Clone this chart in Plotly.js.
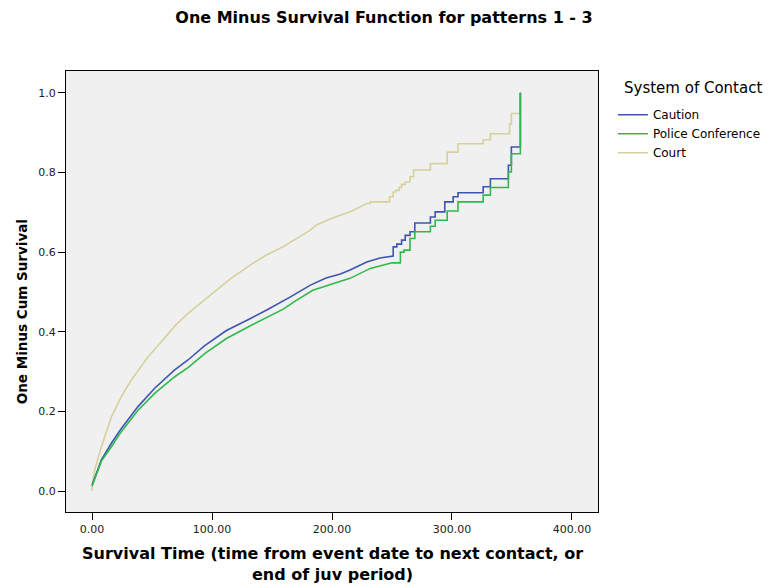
<!DOCTYPE html>
<html>
<head>
<meta charset="utf-8">
<script src="https://cdn.plot.ly/plotly-3.0.1.min.js"></script>
<style>
  html, body { margin: 0; padding: 0; background: #ffffff; }
  #chart { width: 768px; height: 588px; }
</style>
</head>
<body>
<div id="chart"></div>
<script>
// ---- Data (time, one minus cumulative survival) ----
const seriesNames = ["Caution", "Police Conference", "Court"];

const cautionTime = [0, 1, 7.8, 16.1, 24.4, 38.3, 52.2, 68.9, 80, 93.9, 105, 112, 130, 146, 165, 182, 195, 207, 215, 229, 240, 248,
  251, 254, 258, 261, 265, 269, 282, 286, 294, 301, 305, 326, 332, 347, 349.5, 357];
const cautionValue = [0.015, 0.023, 0.078, 0.12, 0.157, 0.212, 0.258, 0.304, 0.329, 0.365, 0.388, 0.403, 0.43, 0.455, 0.487, 0.517, 0.535, 0.545, 0.555, 0.575, 0.585, 0.590,
  0.613, 0.62, 0.63, 0.642, 0.651, 0.673, 0.688, 0.701, 0.726, 0.739, 0.749, 0.764, 0.784, 0.818, 0.864, 1.0];

const policeTime = [0, 1, 7.8, 16.1, 24.4, 38.3, 52.2, 68.9, 80, 93.9, 105, 112, 130, 146, 159, 170, 184, 200, 215, 232, 237, 250,
  257, 260, 265, 269, 282, 286, 296, 305, 326, 332, 347, 349.5, 357];
const policeValue = [0.012, 0.02, 0.075, 0.111, 0.149, 0.203, 0.245, 0.287, 0.31, 0.345, 0.367, 0.383, 0.412, 0.436, 0.456, 0.478, 0.504, 0.52, 0.534, 0.559, 0.563, 0.573,
  0.600, 0.605, 0.634, 0.651, 0.665, 0.68, 0.703, 0.726, 0.743, 0.762, 0.801, 0.847, 1.0];

const courtTime = [0, 0.5, 2.2, 7.8, 16.1, 24.4, 32.8, 46.7, 57.8, 68.9, 80, 96.7, 103.6, 115, 132, 145, 159, 168, 182, 187, 200, 215, 229,
  232, 248, 251, 253, 256, 258, 261, 265, 268, 282, 296, 305, 326, 332, 348, 349.5, 357];
const courtValue = [0, 0.023, 0.053, 0.111, 0.186, 0.237, 0.279, 0.337, 0.375, 0.414, 0.446, 0.488, 0.503, 0.532, 0.568, 0.592, 0.613, 0.63, 0.655, 0.668, 0.685, 0.701, 0.722,
  0.726, 0.739, 0.751, 0.755, 0.762, 0.770, 0.776, 0.789, 0.806, 0.822, 0.851, 0.872, 0.882, 0.897, 0.922, 0.948, 1.0];

const xTickVals = [0, 100, 200, 300, 400];
const xTickText = ["0.00", "100.00", "200.00", "300.00", "400.00"];
const yTickVals = [0, 0.2, 0.4, 0.6, 0.8, 1.0];
const yTickText = ["0.0", "0.2", "0.4", "0.6", "0.8", "1.0"];

// Dense early events are drawn as a continuous line; sparse later events as steps.
function kmPath(t, v, stepFrom) {
  const xs = [], ys = [];
  for (let i = 0; i < t.length; i++) {
    if (i > 0 && t[i] > stepFrom) { xs.push(t[i]); ys.push(v[i - 1]); }
    xs.push(t[i]); ys.push(v[i]);
  }
  return { x: xs, y: ys };
}

const FONT = "DejaVu Sans, Verdana, sans-serif";
const colors = { caution: "#3e55ae", police: "#2fb94a", court: "#d5d09c" };

const pc = kmPath(courtTime, courtValue, 230);
const pa = kmPath(cautionTime, cautionValue, 249);
const pp = kmPath(policeTime, policeValue, 251);

const traces = [
  { x: pc.x, y: pc.y, name: seriesNames[2], legendrank: 3, mode: "lines",
    line: { color: colors.court, width: 1.6 }, hoverinfo: "skip" },
  { x: pa.x, y: pa.y, name: seriesNames[0], legendrank: 1, mode: "lines",
    line: { color: colors.caution, width: 1.6 }, hoverinfo: "skip" },
  { x: pp.x, y: pp.y, name: seriesNames[1], legendrank: 2, mode: "lines",
    line: { color: colors.police, width: 1.6 }, hoverinfo: "skip" }
];

const layout = {
  width: 768, height: 588,
  margin: { l: 66, r: 170, t: 71, b: 76, autoexpand: false },
  paper_bgcolor: "#ffffff",
  plot_bgcolor: "#f0f0f0",
  font: { family: FONT, color: "#000000", size: 11 },
  showlegend: true,
  title: {
    text: "<b>One Minus Survival Function for patterns 1 - 3</b>",
    font: { family: FONT, size: 16, color: "#000000" },
    xref: "container", x: 0.5, xanchor: "center",
    yref: "container", y: 0.971, yanchor: "middle"
  },
  xaxis: {
    range: [-21.7, 421.7],
    tickvals: xTickVals, ticktext: xTickText,
    ticks: "outside", ticklen: 7, tickwidth: 1, tickcolor: "#000000",
    showline: true, linecolor: "#000000", linewidth: 1, mirror: true,
    showgrid: false, zeroline: false,
    tickfont: { family: FONT, size: 11, color: "#222222" }
  },
  yaxis: {
    range: [-0.0527, 1.0547],
    tickvals: yTickVals, ticktext: yTickText,
    ticks: "outside", ticklen: 7, tickwidth: 1, tickcolor: "#000000",
    showline: true, linecolor: "#000000", linewidth: 1, mirror: true,
    showgrid: false, zeroline: false,
    tickfont: { family: FONT, size: 11, color: "#222222" }
  },
  legend: {
    x: 1.028, xanchor: "left", y: 0.9336, yanchor: "top",
    bgcolor: "rgba(0,0,0,0)",
    font: { family: FONT, size: 12, color: "#000000" },
    itemwidth: 30, tracegroupgap: 2
  },
  annotations: [
    {
      text: "System of Contact",
      xref: "paper", yref: "paper", x: 1.045, y: 0.961,
      xanchor: "left", yanchor: "middle", showarrow: false,
      font: { family: FONT, size: 15, color: "#000000" }
    },
    {
      text: "<b>Survival Time (time from event date to next contact, or<br>end of juv period)</b>",
      xref: "paper", yref: "paper", x: 0.5, y: -0.117,
      xanchor: "center", yanchor: "middle", showarrow: false,
      font: { family: FONT, size: 16, color: "#000000" }
    },
    {
      text: "<b>One Minus Cum Survival</b>",
      xref: "paper", yref: "paper", x: -0.0827, y: 0.453,
      xanchor: "center", yanchor: "middle", textangle: -90, showarrow: false,
      font: { family: FONT, size: 13.5, color: "#000000" }
    }
  ]
};

Plotly.newPlot("chart", traces, layout, { staticPlot: true, displayModeBar: false });
</script>
</body>
</html>
